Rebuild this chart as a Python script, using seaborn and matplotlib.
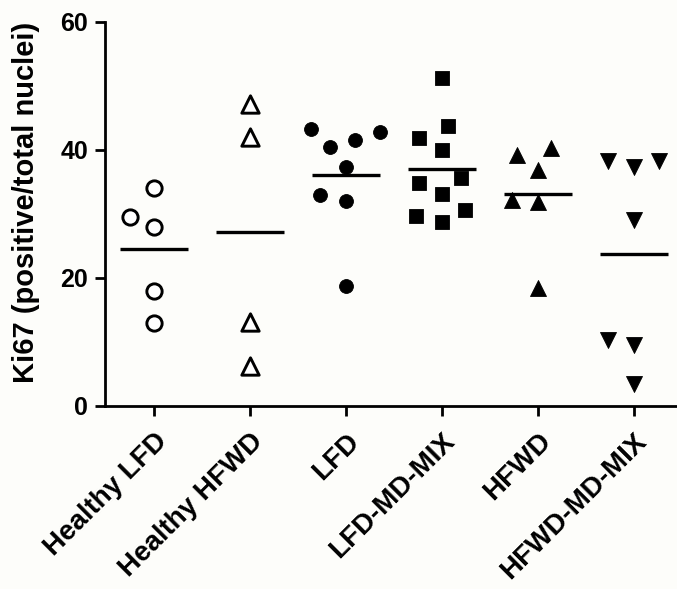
import matplotlib
matplotlib.use("Agg")
import matplotlib.pyplot as plt
from matplotlib.collections import PathCollection
import seaborn as sns
import pandas as pd

categories = ["Healthy LFD", "Healthy HFWD", "LFD", "LFD-MD-MIX", "HFWD", "HFWD-MD-MIX"]

healthy_lfd = [34.0, 28.0, 29.6, 18.0, 13.0]
healthy_hfwd = [47.2, 42.1, 13.2, 6.2]
lfd = [42.8, 41.6, 43.2, 40.5, 37.4, 33.0, 32.0, 18.8]
lfd_md_mix = [51.2, 43.8, 41.9, 40.0, 35.7, 34.9, 33.1, 30.6, 29.7, 28.7]
hfwd = [40.3, 39.2, 36.9, 32.2, 31.9, 18.5]
hfwd_md_mix = [38.2, 37.4, 38.3, 29.1, 10.3, 9.5, 3.5]

yticks = [0, 20, 40, 60]
ylabel = "Ki67 (positive/total nuclei)"

series = [healthy_lfd, healthy_hfwd, lfd, lfd_md_mix, hfwd, hfwd_md_mix]
frames = [pd.DataFrame({"group": c, "ki67": v}) for c, v in zip(categories, series)]
df = pd.concat(frames, ignore_index=True)

# marker style per group: (marker, face, visible size in pt, edge width in pt)
styles = {
    "Healthy LFD": ("o", "white", 11.0, 2.1),
    "Healthy HFWD": ("^", "white", 12.5, 2.1),
    "LFD": ("o", "black", 10.0, 0.6),
    "LFD-MD-MIX": ("s", "black", 10.5, 0.6),
    "HFWD": ("^", "black", 11.5, 0.6),
    "HFWD-MD-MIX": ("v", "black", 11.5, 0.6),
}
SWARM_SIZE = 16  # spacing used for the beeswarm layout
BG = "#fdfdfa"

plt.rcParams["font.family"] = ["Liberation Sans", "DejaVu Sans"]
plt.rcParams["font.weight"] = "bold"

fig = plt.figure(figsize=(6.77, 5.89), dpi=100, facecolor=BG)
ax = fig.add_axes([0.155, 0.3107, 0.845, 0.652])

swarms = []
for cat in categories:
    marker, face, size, lw = styles[cat]
    sub = df[df["group"] == cat]
    n_before = len(ax.collections)
    sns.swarmplot(data=sub, x="group", y="ki67", order=categories, ax=ax,
                  marker=marker, size=SWARM_SIZE, color=face,
                  edgecolor="black", linewidth=2.0)
    for coll in ax.collections[n_before:]:
        if isinstance(coll, PathCollection) and len(coll.get_offsets()):
            swarms.append((coll, size, lw))

sns.pointplot(data=df, x="group", y="ki67", order=categories, ax=ax,
              estimator="mean", errorbar=None, color="black",
              marker="_", linestyle="none", markersize=49, markeredgewidth=2.4)

ax.set_ylim(0, 60)
ax.set_xlim(-0.51, 5.45)
ax.set_yticks(yticks)
ax.set_yticklabels([str(t) for t in yticks], fontsize=18, fontweight="bold")
ax.set_xlabel("")
ax.set_ylabel(ylabel, fontsize=21, fontweight="bold")
ax.yaxis.set_label_coords(-0.113, 0.529)
ax.set_xticks(range(len(categories)))
ax.set_xticklabels(categories, rotation=45, ha="right", va="top",
                   rotation_mode="anchor", fontsize=20, fontweight="bold")
for s in ["top", "right"]:
    ax.spines[s].set_visible(False)
for s in ["left", "bottom"]:
    ax.spines[s].set_linewidth(2.0)
ax.tick_params(axis="both", direction="out", length=7, width=2.0, pad=5)
ax.tick_params(axis="x", pad=9)
ax.set_facecolor(BG)

# let seaborn lay out the swarms, then shrink the markers to their visible size
fig.canvas.draw()
for coll, size, lw in swarms:
    if "draw" in coll.__dict__:
        del coll.draw
    coll.set_sizes([size ** 2])
    coll.set_linewidth(lw)

fig.savefig("out.png", dpi=100, facecolor=BG)
